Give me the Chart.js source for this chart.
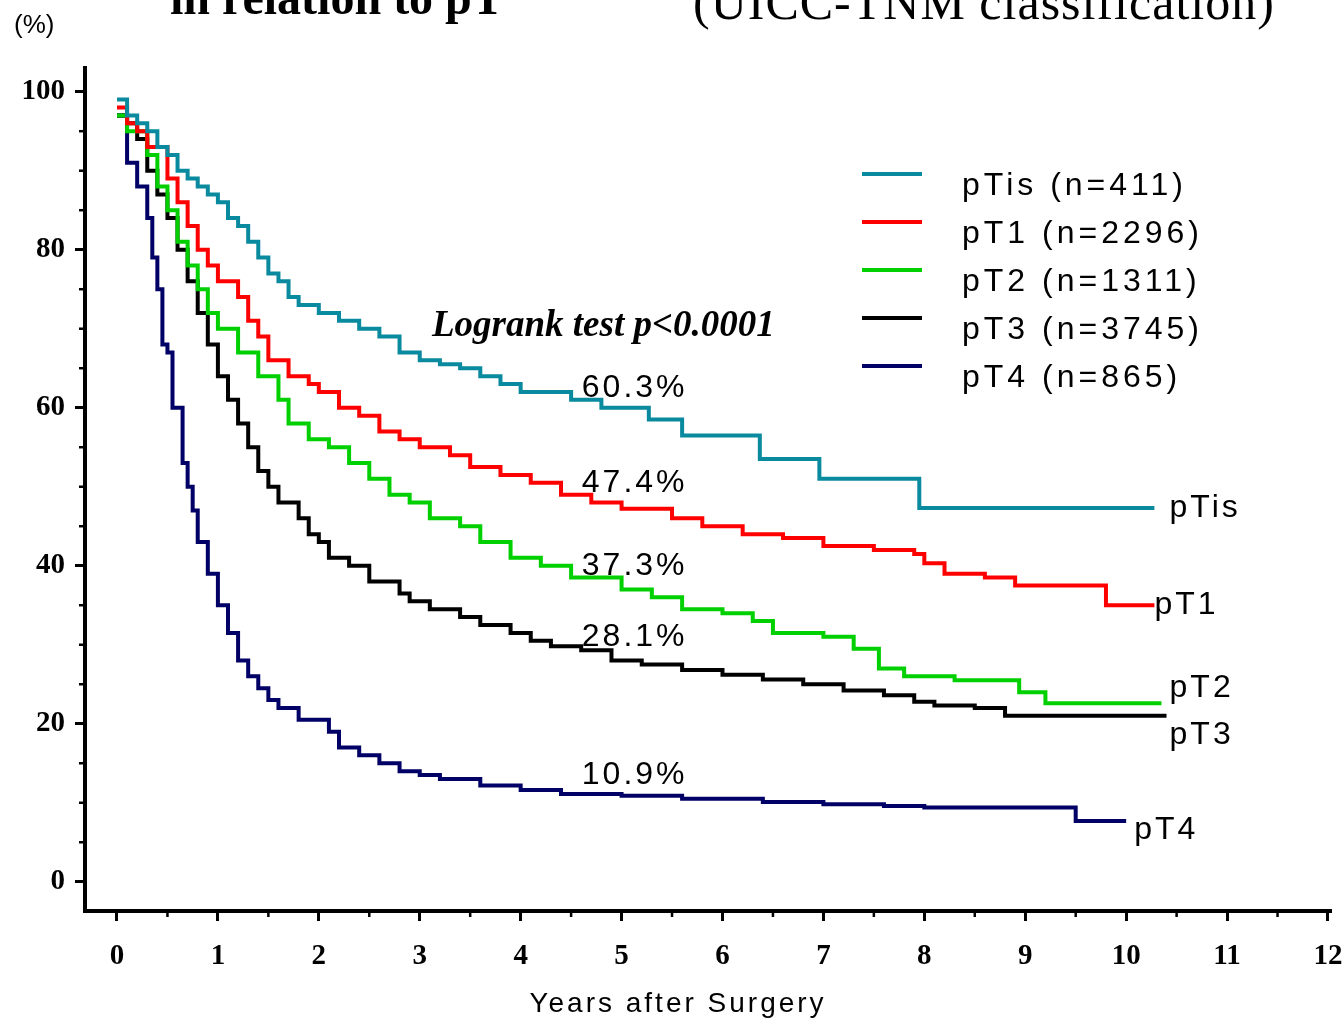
<!DOCTYPE html>
<html><head><meta charset="utf-8">
<script src="https://cdn.jsdelivr.net/npm/chart.js@4.4.0/dist/chart.umd.min.js"></script>
<style>html,body{margin:0;padding:0;background:#fff;overflow:hidden}#w{position:relative;width:1344px;height:1025px}</style>
</head><body><div id="w"><canvas id="c" width="1344" height="1025"></canvas></div>
<script>
const seriesNames = ['pTis (n=411)','pT1 (n=2296)','pT2 (n=1311)','pT3 (n=3745)','pT4 (n=865)'];
const endLabels = ['pTis','pT1','pT2','pT3','pT4'];
const colors = ['#0a8a9e','#ff0000','#00d000','#000000','#000066'];
const pTisX=[0,0.1,0.2,0.3,0.4,0.5,0.6,0.7,0.8,0.9,1.0,1.1,1.2,1.3,1.4,1.5,1.6,1.7,1.8,2.0,2.2,2.4,2.6,2.8,3.0,3.2,3.4,3.6,3.8,4.0,4.5,4.8,5.27,5.6,6.37,6.96,7.95,10.28];
const pTisY=[99,97,96,95,93,92,90,89,88,87,86,84,83,81,79,77,76,74,73,72,71,70,69,67,66,65.5,65,64,63,62,61,60,58.5,56.5,53.5,51,47.3,47.3];
const pT1X=[0,0.1,0.2,0.3,0.5,0.6,0.7,0.8,0.9,1.0,1.2,1.3,1.4,1.5,1.7,1.9,2.0,2.2,2.4,2.6,2.8,3.0,3.3,3.5,3.8,4.1,4.4,4.7,5.0,5.5,5.8,6.2,6.6,7.0,7.5,7.9,8.0,8.2,8.6,8.9,9.8,10.28];
const pT1Y=[98,96,95,93,89,86,83,80,78,76,74,71,69,66,64,63,62,60,59,57,56,55,54,52.5,51.5,50.5,49,48,47.2,46,45,44,43.5,42.5,42,41.5,40.3,39,38.5,37.5,35,35];
const pT2X=[0,0.1,0.3,0.4,0.5,0.6,0.7,0.8,0.9,1.0,1.2,1.4,1.6,1.7,1.9,2.1,2.3,2.5,2.7,2.9,3.1,3.4,3.6,3.9,4.2,4.5,5.0,5.3,5.6,6.0,6.3,6.5,7.0,7.3,7.55,7.8,8.3,8.94,9.2,10.35];
const pT2Y=[97,95,92,88,85,81,78,75,72,70,67,64,61,58,56,55,53,51,49,48,46,45,43,41,40,38.5,37,36,34.5,34,33,31.5,31,29.5,27,26,25.5,24,22.6,22.6];
const pT3X=[0,0.1,0.2,0.3,0.4,0.5,0.6,0.7,0.8,0.9,1.0,1.1,1.2,1.3,1.4,1.5,1.6,1.8,1.9,2.0,2.1,2.3,2.5,2.8,2.9,3.1,3.4,3.6,3.9,4.1,4.3,4.6,4.9,5.2,5.6,6.0,6.4,6.8,7.2,7.6,7.9,8.1,8.5,8.8,10.4];
const pT3Y=[97,96,94,90,87,84,80,76,72,68,64,61,58,55,52,50,48,46,44,43,41,40,38,36.5,35.5,34.5,33.5,32.5,31.5,30.5,29.8,29.3,28,27.5,26.8,26.2,25.6,25,24.2,23.6,22.8,22.3,22,21,21];
const pT4X=[0,0.1,0.2,0.3,0.35,0.4,0.45,0.5,0.55,0.65,0.7,0.75,0.8,0.9,1.0,1.1,1.2,1.3,1.4,1.5,1.6,1.8,2.1,2.2,2.4,2.6,2.8,3.0,3.2,3.6,4.0,4.4,5.0,5.6,6.4,7.0,7.6,8.0,9.5,10.0];
const pT4Y=[97,91,88,84,79,75,68,67,60,53,50,47,43,39,35,31.5,28,26,24.5,23,22,20.5,19,17,16,15,14,13.5,13,12.2,11.6,11.1,10.9,10.5,10.1,9.8,9.6,9.4,7.7,7.7];
const allX=[pTisX,pT1X,pT2X,pT3X,pT4X], allY=[pTisY,pT1Y,pT2Y,pT3Y,pT4Y];
const xTicks=[0,1,2,3,4,5,6,7,8,9,10,11,12];
const yTicks=[0,20,40,60,80,100];
const pctLabels=['60.3%','47.4%','37.3%','28.1%','10.9%'];
const pctPos=[[5.1,62.5],[5.1,50.5],[5.1,40],[5.1,31],[5.1,13.5]];
const endPos=[[10.43,47.3],[10.28,35],[10.43,24.5],[10.43,18.5],[10.08,6.5]];

const deco={id:'deco',afterDraw(ch){
  const c=ch.ctx,x=ch.scales.x,y=ch.scales.y;
  c.save();
  c.strokeStyle='#000';c.lineWidth=2.5;
  for(let v=5;v<=100;v+=5){if(v%20===0)continue;const py=y.getPixelForValue(v);c.beginPath();c.moveTo(x.left-1,py);c.lineTo(x.left-6,py);c.stroke();}
  for(let v=0.5;v<=12;v+=1){const px=x.getPixelForValue(v);c.beginPath();c.moveTo(px,y.bottom+1);c.lineTo(px,y.bottom+6);c.stroke();}
  c.fillStyle='#000';c.textBaseline='middle';
  c.font='32px "Liberation Sans"';c.letterSpacing='3px';c.textAlign='center';
  pctLabels.forEach((t,i)=>c.fillText(t,x.getPixelForValue(pctPos[i][0])+3,y.getPixelForValue(pctPos[i][1])));
  c.textAlign='left';
  endLabels.forEach((t,i)=>c.fillText(t,x.getPixelForValue(endPos[i][0]),y.getPixelForValue(endPos[i][1])));
  c.letterSpacing='4px';
  seriesNames.forEach((t,i)=>{const ly=174+i*48;c.strokeStyle=colors[i];c.lineWidth=4;c.beginPath();c.moveTo(862,ly);c.lineTo(922,ly);c.stroke();c.fillText(t,962,ly+12);});
  c.letterSpacing='0px';
  c.font='bold italic 37px "Liberation Serif"';c.fillText('Logrank test p<0.0001',432,326);
  c.font='26px "Liberation Sans"';c.fillText('(%)',14,26);
  c.font='bold 48px "Liberation Serif"';c.fillText('in relation to pT',170,2);
  c.font='50px "Liberation Serif"';c.letterSpacing='1px';c.fillText('(UICC-TNM classification)',693,6);
  c.font='28px "Liberation Sans"';c.letterSpacing='3px';c.textAlign='center';c.fillText('Years after Surgery',678,1004);
  c.restore();
}};

new Chart(document.getElementById('c'),{
  type:'scatter',
  data:{datasets:allX.map((xs,i)=>({label:seriesNames[i],data:xs.map((v,j)=>({x:v,y:allY[i][j]})),showLine:true,stepped:'before',borderColor:colors[i],borderWidth:4,pointRadius:0,fill:false}))},
  options:{responsive:false,animation:false,devicePixelRatio:1,
    layout:{padding:{top:68,right:14,left:0,bottom:0}},
    plugins:{legend:{display:false},tooltip:{enabled:false}},
    scales:{
      x:{type:'linear',min:-0.317,max:12.02,
        afterFit(s){s.height=114;s.paddingRight=0;s.paddingLeft=0;},
        afterBuildTicks(s){s.ticks=xTicks.map(v=>({value:v}));},
        border:{color:'#000',width:4},
        grid:{drawOnChartArea:false,color:'#000',lineWidth:3,tickLength:10},
        ticks:{color:'#000',font:{family:'Liberation Serif',weight:'bold',size:29},padding:18,maxRotation:0}},
      y:{type:'linear',min:-3.7,max:103,
        afterFit(s){s.width=85;},
        afterBuildTicks(s){s.ticks=yTicks.map(v=>({value:v}));},
        border:{color:'#000',width:4},
        grid:{drawOnChartArea:false,color:'#000',lineWidth:3,tickLength:10},
        ticks:{color:'#000',font:{family:'Liberation Serif',weight:'bold',size:29},padding:10}}
    }},
  plugins:[deco]
});
</script></body></html>
